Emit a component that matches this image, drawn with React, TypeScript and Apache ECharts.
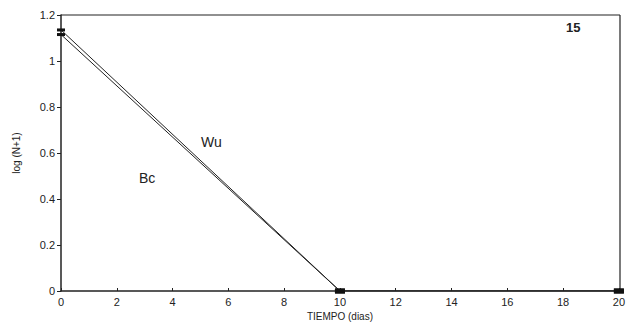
import React, { useEffect, useRef } from "react";
import * as echarts from "echarts";

const days = [0, 10, 20];
const wu = [1.135, 0, 0];
const bc = [1.115, 0, 0];
const xTicks = [0, 2, 4, 6, 8, 10, 12, 14, 16, 18, 20];

export default function App() {
  const ref = useRef<HTMLDivElement>(null);
  useEffect(() => {
    const chart = echarts.init(ref.current!, null, { renderer: "svg" });
    const font = "Liberation Sans, Arial, sans-serif";
    const sym = (_v: any, p: any) => (p.dataIndex === 0 ? [8, 3] : [10, 5]);
    chart.setOption({
      animation: false,
      backgroundColor: "#fff",
      grid: { left: 61, right: 8, top: 15, bottom: 36, show: false },
      xAxis: {
        type: "value",
        min: xTicks[0],
        max: xTicks[xTicks.length - 1],
        interval: 2,
        name: "TIEMPO (dias)",
        nameLocation: "middle",
        nameGap: 17,
        nameTextStyle: { fontFamily: font, fontSize: 10, color: "#222" },
        axisLine: { show: true, lineStyle: { color: "#222", width: 1.5 } },
        axisTick: { show: true, inside: true, length: 3, lineStyle: { color: "#222" } },
        axisLabel: { fontFamily: font, fontSize: 11, color: "#222", margin: 5 },
        splitLine: { show: false },
      },
      yAxis: {
        type: "value",
        min: 0,
        max: 1.2,
        interval: 0.2,
        name: "log (N+1)",
        nameLocation: "middle",
        nameGap: 40,
        nameRotate: 90,
        nameTextStyle: { fontFamily: font, fontSize: 10, color: "#222" },
        axisLine: { show: true, lineStyle: { color: "#222", width: 1.5 } },
        axisTick: { show: true, length: 4, lineStyle: { color: "#222" } },
        axisLabel: {
          fontFamily: font,
          fontSize: 11,
          color: "#222",
          margin: 6,
          formatter: (v: number) => String(Math.round(v * 10) / 10),
        },
        splitLine: { show: false },
      },
      graphic: [
        { type: "line", shape: { x1: 61, y1: 15, x2: 620, y2: 15 }, style: { stroke: "#222", lineWidth: 1.2 } },
        { type: "line", shape: { x1: 620, y1: 15, x2: 620, y2: 291 }, style: { stroke: "#222", lineWidth: 1.2 } },
        { type: "text", x: 566, y: 21, style: { text: "15", fontFamily: font, fontSize: 13, fontWeight: "bold", fill: "#222" } },
        { type: "text", x: 201, y: 135, style: { text: "Wu", fontFamily: font, fontSize: 14, fill: "#222" } },
        { type: "text", x: 139, y: 171, style: { text: "Bc", fontFamily: font, fontSize: 14, fill: "#222" } },
      ],
      series: [
        {
          type: "line",
          name: "Wu",
          data: days.map((d, i) => [d, wu[i]]),
          symbol: "rect",
          symbolSize: sym,
          itemStyle: { color: "#111" },
          lineStyle: { color: "#222", width: 1 },
        },
        {
          type: "line",
          name: "Bc",
          data: days.map((d, i) => [d, bc[i]]),
          symbol: "rect",
          symbolSize: sym,
          itemStyle: { color: "#111" },
          lineStyle: { color: "#222", width: 1 },
        },
      ],
    });
    return () => chart.dispose();
  }, []);
  return <div ref={ref} style={{ width: 628, height: 327, position: "absolute", left: 0, top: 0 }} />;
}
